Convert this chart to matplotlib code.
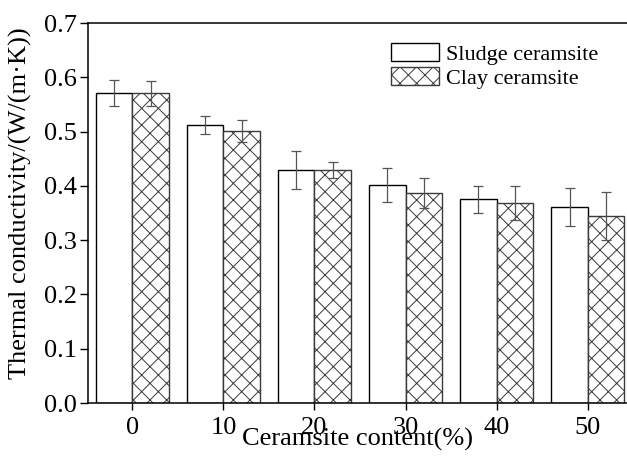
import numpy as np
import matplotlib
matplotlib.use("Agg")
import matplotlib.pyplot as plt

plt.rcParams['font.family'] = ['Liberation Serif', 'DejaVu Serif']
plt.rcParams['hatch.linewidth'] = 0.7

contents = [0, 10, 20, 30, 40, 50]
sludge = [0.571, 0.512, 0.430, 0.402, 0.375, 0.361]
sludge_err = [0.024, 0.016, 0.035, 0.031, 0.025, 0.035]
clay = [0.571, 0.501, 0.429, 0.387, 0.369, 0.345]
clay_err = [0.023, 0.021, 0.015, 0.028, 0.031, 0.044]
series_labels = ['Sludge ceramsite', 'Clay ceramsite']


def main():
    fig = plt.figure(figsize=(6.27, 4.58), dpi=100)
    ax = fig.add_axes([88 / 627, 55 / 458, 1 - 88 / 627, 380 / 458])

    x = np.array(contents, dtype=float)
    w = 4.0
    err_kw = dict(ecolor='#555555', elinewidth=0.9, capsize=3.5, capthick=0.9)
    ax.bar(x - w / 2, sludge, w, yerr=sludge_err, color='white', edgecolor='black',
           linewidth=1.0, error_kw=err_kw, label=series_labels[0])
    ax.bar(x + w / 2, clay, w, yerr=clay_err, color='white', edgecolor='#3a3a3a',
           linewidth=1.0, hatch='xx', error_kw=err_kw, label=series_labels[1])

    ax.set_xlim(-4.86, 54.3)
    ax.set_ylim(0, 0.7)
    ax.set_xticks(contents)
    ax.set_yticks(np.arange(0, 0.71, 0.1))
    ax.set_yticklabels(['{:.1f}'.format(v) for v in np.arange(0, 0.71, 0.1)])
    ax.tick_params(direction='out', length=6, width=1, labelsize=19, pad=2)
    ax.tick_params(axis='x', length=5, pad=5)
    ax.spines['right'].set_visible(False)
    for s in ['left', 'top', 'bottom']:
        ax.spines[s].set_linewidth(1.1)

    ax.set_xlabel('Ceramsite content(%)', fontsize=19, labelpad=-8)
    ax.set_ylabel('Thermal conductivity/(W/(m\u00b7K))', fontsize=19)
    ax.yaxis.set_label_coords(-0.104, 0.525)

    ax.legend(loc='upper left', bbox_to_anchor=(0.563, 0.948), frameon=False,
              fontsize=16, handlelength=2.15, handleheight=0.9, handletextpad=0.3,
              labelspacing=0.1, borderaxespad=0, borderpad=0)

    fig.savefig('out.png', dpi=100)


if __name__ == '__main__':
    main()
